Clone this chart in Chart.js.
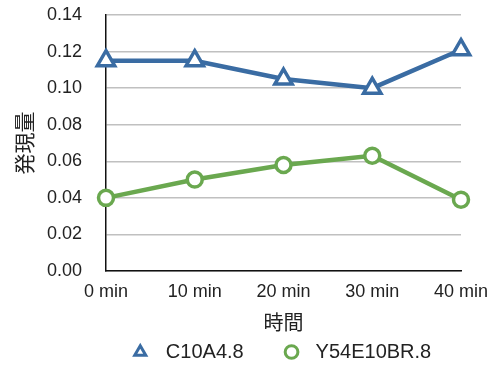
<!DOCTYPE html>
<html>
<head>
<meta charset="utf-8">
<script src="https://cdn.jsdelivr.net/npm/chart.js@4/dist/chart.umd.min.js"></script>
<style>
  html, body { margin: 0; padding: 0; background: #fff; }
  #wrap { width: 491px; height: 365px; }
</style>
</head>
<body>
<div id="wrap"><canvas id="chart" width="491" height="365"></canvas></div>
<script>
const categories = ['0 min', '10 min', '20 min', '30 min', '40 min'];
const seriesNames = ['C10A4.8', 'Y54E10BR.8'];
const c10a4Values = [0.115, 0.115, 0.105, 0.100, 0.121];
const y54e10Values = [0.040, 0.050, 0.058, 0.063, 0.039];
const yTicks = [0, 0.02, 0.04, 0.06, 0.08, 0.10, 0.12, 0.14];

const BLUE = '#3a6ca3';
const GREEN = '#6aa84f';
const FONT = '"Liberation Sans", Arial, "Noto Sans CJK JP", sans-serif';

Chart.defaults.font.family = FONT;
Chart.defaults.color = '#222';

const ctx = document.getElementById('chart').getContext('2d');
new Chart(ctx, {
    type: 'line',
    data: {
        labels: categories,
        datasets: [{
            label: seriesNames[0],
            data: c10a4Values,
            borderColor: BLUE,
            backgroundColor: '#fff',
            borderWidth: 4.5,
            pointStyle: 'triangle',
            pointRadius: 10,
            pointBorderWidth: 3.5,
            pointBackgroundColor: '#fff',
            pointBorderColor: BLUE,
            tension: 0
        }, {
            label: seriesNames[1],
            data: y54e10Values,
            borderColor: GREEN,
            backgroundColor: '#fff',
            borderWidth: 4.5,
            pointStyle: 'circle',
            pointRadius: 7.5,
            pointBorderWidth: 3.5,
            pointBackgroundColor: '#fff',
            pointBorderColor: GREEN,
            tension: 0
        }]
    },
    options: {
        responsive: false,
        animation: false,
        layout: { padding: { left: 14, right: 30, top: 15, bottom: -7 } },
        plugins: {
            legend: {
                position: 'bottom',
                fullSize: false,
                labels: {
                    usePointStyle: true,
                    boxWidth: 9,
                    boxHeight: 9,
                    padding: 6,
                    font: { size: 20 },
                    color: '#222',
                    // pad the label text so marker/text gaps match the original
                    generateLabels: chart => {
                        const items = Chart.defaults.plugins.legend.labels.generateLabels(chart);
                        items[0].text = '  ' + items[0].text + '      \u2009';
                        items[1].text = ' \u2009' + items[1].text;
                        items.forEach(it => { it.lineWidth = 3; });
                        return items;
                    }
                }
            },
            tooltip: { enabled: false }
        },
        scales: {
            x: {
                offset: false,
                grid: { display: false, drawTicks: false },
                border: { display: true, color: '#111', width: 1.5 },
                ticks: { font: { size: 18 }, color: '#222', padding: 10, maxRotation: 0 },
                title: { display: true, text: '時間', font: { size: 20 }, color: '#222', padding: { top: 0, bottom: 0 } },
                afterFit: s => { s.height = 65; s.paddingLeft = 0; s.paddingRight = 0; }
            },
            y: {
                min: 0,
                max: 0.14,
                afterBuildTicks: axis => { axis.ticks = yTicks.map(v => ({ value: v })); },
                grid: { color: '#c0c0c0', lineWidth: 1.5, drawTicks: false },
                border: { display: true, color: '#111', width: 1.5 },
                ticks: {
                    font: { size: 18 },
                    color: '#222',
                    padding: 24,
                    callback: v => v.toFixed(2)
                },
                title: { display: true, text: '発現量', font: { size: 21 }, color: '#222', padding: { top: 0, bottom: 0 } },
                afterFit: s => { s.width = 92; s.paddingTop = 0; s.paddingBottom = 0; }
            }
        }
    }
});
</script>
</body>
</html>
